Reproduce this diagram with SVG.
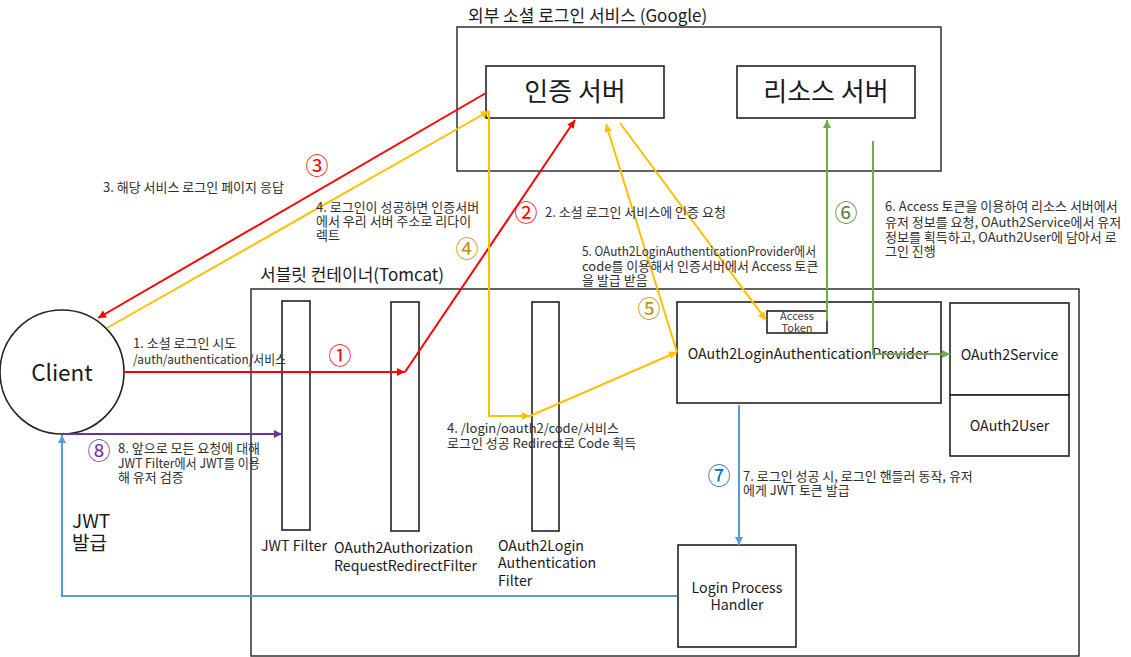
<svg xmlns="http://www.w3.org/2000/svg" width="1131" height="657" viewBox="0 0 1131 657">
<style>
text{font-family:"Noto Sans CJK KR","Noto Sans",sans-serif;fill:#1a1a1a}
.box{fill:#fff;stroke:#222;stroke-width:1.6}
.frame{fill:none;stroke:#222;stroke-width:1.4}
.lbl{font-size:13px;fill:#303030}
.big{font-size:26px}
.mid{font-size:14.2px}
.ttl{font-size:17px}
.tok{font-size:11px;fill:#404040}
.num{font-size:23px}
.nr{fill:#ff0000}.ny{fill:#bf9000}.ng{fill:#548235}.nb{fill:#0070c0}.np{fill:#7030a0}
.c{fill:none;stroke-width:2}
.r{stroke:#ff0000}.y{stroke:#ffc000}.g{stroke:#70ad47}.b{stroke:#5b9bd5}.p{stroke:#7030a0}
</style>
<defs>
<marker id="ar" viewBox="0 0 10 10" refX="10" refY="5" markerWidth="10" markerHeight="8" markerUnits="userSpaceOnUse" orient="auto"><path d="M0,0L10,5L0,10z" fill="#ff0000"/></marker>
<marker id="ay" viewBox="0 0 10 10" refX="10" refY="5" markerWidth="10" markerHeight="8" markerUnits="userSpaceOnUse" orient="auto"><path d="M0,0L10,5L0,10z" fill="#ffc000"/></marker>
<marker id="ag" viewBox="0 0 10 10" refX="10" refY="5" markerWidth="10" markerHeight="8" markerUnits="userSpaceOnUse" orient="auto"><path d="M0,0L10,5L0,10z" fill="#70ad47"/></marker>
<marker id="ab" viewBox="0 0 10 10" refX="10" refY="5" markerWidth="10" markerHeight="8" markerUnits="userSpaceOnUse" orient="auto"><path d="M0,0L10,5L0,10z" fill="#5b9bd5"/></marker>
<marker id="ap" viewBox="0 0 10 10" refX="10" refY="5" markerWidth="10" markerHeight="8" markerUnits="userSpaceOnUse" orient="auto"><path d="M0,0L10,5L0,10z" fill="#7030a0"/></marker>
</defs>
<rect width="1131" height="657" fill="#fff"/>

<g id="google">
<rect class="frame" x="457" y="27" width="484" height="144"/>
<text class="ttl" x="468" y="22">외부 소셜 로그인 서비스 (Google)</text>
</g>
<g id="auth-server">
<rect class="box" x="486" y="66" width="178" height="52"/>
<text class="big" x="575" y="101" text-anchor="middle">인증 서버</text>
</g>
<g id="resource-server">
<rect class="box" x="737" y="66" width="178" height="52"/>
<text class="big" x="826" y="101" text-anchor="middle">리소스 서버</text>
</g>

<g id="tomcat">
<rect class="frame" x="251" y="289" width="828" height="367"/>
<text class="ttl" x="260" y="281">서블릿 컨테이너(Tomcat)</text>
</g>

<g id="client">
<circle cx="62" cy="372" r="62" fill="#fff" stroke="#222" stroke-width="1.6"/>
<text x="62" y="381" font-size="22.5" text-anchor="middle">Client</text>
</g>

<g id="jwt-filter">
<rect class="box" x="282" y="301" width="28" height="229"/>
<text class="mid" x="261" y="551">JWT Filter</text>
</g>
<g id="redirect-filter">
<rect class="box" x="391" y="302" width="28" height="229"/>
<text class="mid" x="334" y="553">OAuth2Authorization</text>
<text class="mid" x="334" y="571">RequestRedirectFilter</text>
</g>
<g id="login-filter">
<rect class="box" x="532" y="302" width="27" height="229"/>
<text class="mid" x="498" y="551">OAuth2Login</text>
<text class="mid" x="498" y="568">Authentication</text>
<text class="mid" x="498" y="586">Filter</text>
</g>

<g id="provider">
<rect class="box" x="677" y="302" width="264" height="101"/>
<text class="mid" x="808" y="359" text-anchor="middle">OAuth2LoginAuthenticationProvider</text>
</g>
<g id="access-token">
<rect class="box" x="767" y="311" width="60" height="22"/>
<text class="tok" x="797" y="320" text-anchor="middle">Access</text>
<text class="tok" x="797" y="332" text-anchor="middle">Token</text>
</g>
<g id="oauth2service">
<rect class="box" x="950" y="303" width="119" height="92"/>
<text class="mid" x="1009.5" y="360" text-anchor="middle">OAuth2Service</text>
</g>
<g id="oauth2user">
<rect class="box" x="950" y="395" width="119" height="61"/>
<text class="mid" x="1009.5" y="431" text-anchor="middle">OAuth2User</text>
</g>
<g id="login-handler">
<rect class="box" x="678" y="545" width="118" height="102"/>
<text class="mid" x="737" y="593" text-anchor="middle">Login Process</text>
<text class="mid" x="737" y="610" text-anchor="middle">Handler</text>
</g>

<g id="connectors">
<path class="c r" d="M123,372L405,372" marker-end="url(#ar)"/>
<path class="c r" d="M405,372L575,120" marker-end="url(#ar)"/>
<path class="c r" d="M486,93L98,318" marker-end="url(#ar)"/>
<path class="c y" d="M107,328L489,111" marker-end="url(#ay)"/>
<path class="c y" d="M489,111L489,416L530,416" marker-end="url(#ay)"/>
<path class="c y" d="M530,416L677,352" marker-end="url(#ay)"/>
<path class="c y" d="M677,352L606,124" marker-end="url(#ay)"/>
<path class="c y" d="M620,123L766,320" marker-end="url(#ay)"/>
<path class="c g" d="M827,321L827,120" marker-end="url(#ag)"/>
<path class="c g" d="M873,141L873,354L950,354" marker-end="url(#ag)"/>
<path class="c b" d="M739,405L739,545" marker-end="url(#ab)"/>
<path class="c p" d="M62,434L282,434" marker-end="url(#ap)"/>
<path class="c b" d="M677,596L62,596L62,435" marker-end="url(#ab)"/>
</g>

<g id="labels">
<text class="lbl" x="103" y="192">3. 해당 서비스 로그인 페이지 응답</text>
<text class="lbl" x="316" y="212">4. 로그인이 성공하면 인증서버</text>
<text class="lbl" x="316" y="226">에서 우리 서버 주소로 리다이</text>
<text class="lbl" x="316" y="240">렉트</text>
<text class="lbl" x="545" y="217">2. 소셜 로그인 서비스에 인증 요청</text>
<text class="lbl" x="582" y="256" textLength="234" lengthAdjust="spacingAndGlyphs">5. OAuth2LoginAuthenticationProvider에서</text>
<text class="lbl" x="582" y="271">code를 이용해서 인증서버에서 Access 토큰</text>
<text class="lbl" x="582" y="285">을 발급 받음</text>
<text class="lbl" x="885" y="211">6. Access 토큰을 이용하여 리소스 서버에서</text>
<text class="lbl" x="885" y="227">유저 정보를 요청, OAuth2Service에서 유저</text>
<text class="lbl" x="885" y="242">정보를 획득하고, OAuth2User에 담아서 로</text>
<text class="lbl" x="885" y="256">그인 진행</text>
<text class="lbl" x="133" y="348">1. 소셜 로그인 시도</text>
<text class="lbl" x="133" y="364" textLength="153" lengthAdjust="spacingAndGlyphs">/auth/authentication/서비스</text>
<text class="lbl" x="118" y="453">8. 앞으로 모든 요청에 대해</text>
<text class="lbl" x="118" y="468" textLength="142" lengthAdjust="spacingAndGlyphs">JWT Filter에서 JWT를 이용</text>
<text class="lbl" x="118" y="482">해 유저 검증</text>
<text class="lbl" x="447" y="433">4. /login/oauth2/code/서비스</text>
<text class="lbl" x="447" y="448">로그인 성공 Redirect로 Code 획득</text>
<text class="lbl" x="743" y="481">7. 로그인 성공 시, 로그인 핸들러 동작, 유저</text>
<text class="lbl" x="743" y="495">에게 JWT 토큰 발급</text>
<text x="72" y="528" font-size="19">JWT</text>
<text x="72" y="550" font-size="19">발급</text>
</g>

<g id="step-numbers" text-anchor="middle">
<text class="num nr" x="340" y="364">①</text>
<text class="num nr" x="526" y="221">②</text>
<text class="num nr" x="317" y="174">③</text>
<text class="num ny" x="467" y="257">④</text>
<text class="num ny" x="649" y="317">⑤</text>
<text class="num ng" x="846" y="221">⑥</text>
<text class="num nb" x="719" y="484">⑦</text>
<text class="num np" x="99" y="459">⑧</text>
</g>
</svg>
